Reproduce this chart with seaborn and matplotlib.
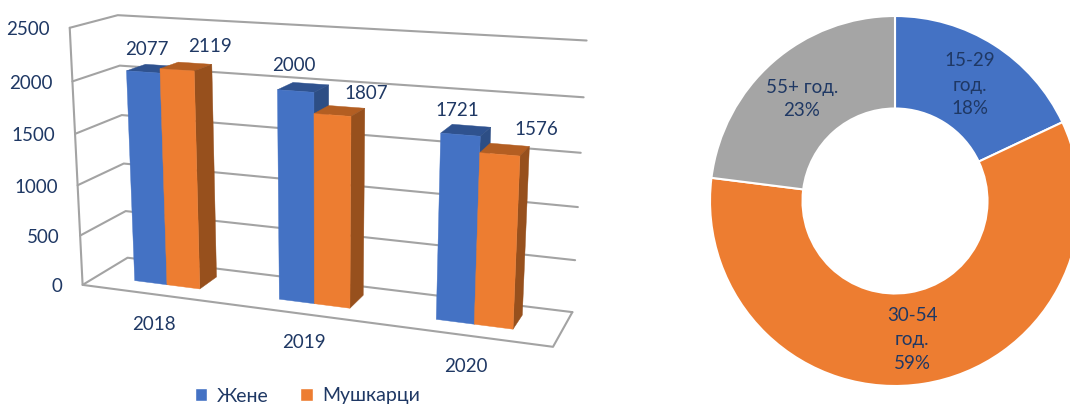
import numpy as np
import pandas as pd
import seaborn as sns
import matplotlib.pyplot as plt

years = ["2018", "2019", "2020"]
women = [2077, 2000, 1721]
men = [2119, 1807, 1576]
series_names = ["Жене", "Мушкарци"]
y_ticks = [0, 500, 1000, 1500, 2000, 2500]
age_labels = ["15-29\nгод.\n18%", "30-54\nгод.\n59%", "55+ год.\n23%"]
age_shares = [18, 59, 23]

blue, orange, grey = "#4472C4", "#ED7D31", "#A5A5A5"
shades = {0: ("#2F528F", "#2D4E85"), 1: ("#B35E22", "#97501D")}
text_color = "#1F3864"
wall_color = "#A3A3A3"
bar_width = 0.46
bar_front, bar_back = 0.32, 0.74

sns.set_theme(style="white")
plt.rcParams["font.family"] = ["Lato", "Open Sans", "DejaVu Sans"]

# camera for the fake 3d box: (category x, value, depth) -> picture pixels
calib = [
    (-0.5, 0, 0, 83, 285), (2.5, 0, 0, 553, 347), (-0.5, 0, 1, 127, 257), (2.5, 0, 1, 573, 311),
    (-0.5, 2500, 0, 70, 27), (-0.5, 2500, 1, 118, 15), (2.5, 2500, 1, 586, 40),
    (0, 0, bar_front, 167, 285), (1, 0, bar_front, 314, 303), (2, 0, bar_front, 474, 324),
    (-0.23, 2077, bar_front, 125, 71), (0.23, 2119, bar_front, 196, 71),
    (0.77, 2000, bar_front, 276, 90), (1.23, 1807, bar_front, 352, 116),
    (1.77, 1721, bar_front, 439, 133), (2.23, 1576, bar_front, 521, 156),
    (0.23, 2119, bar_back, 212, 65), (0.23, 0, bar_back, 217, 277),
    (1.23, 1807, bar_back, 365, 109), (1.23, 0, bar_back, 363, 297),
    (2.23, 1576, bar_back, 530, 147), (2.23, 0, bar_back, 522, 315),
]
rows, rhs = [], []
for x, v, d, u, w in calib:
    v = v / 1000
    rows.append([x, v, d, 1, 0, 0, 0, 0, -u * x, -u * v, -u * d])
    rhs.append(u)
    rows.append([0, 0, 0, 0, x, v, d, 1, -w * x, -w * v, -w * d])
    rhs.append(w)
cam = np.append(np.linalg.lstsq(np.array(rows, float), np.array(rhs, float), rcond=None)[0], 1).reshape(3, 4)


def project(x, v, d):
    p = cam @ np.array([x, v / 1000, d, 1])
    return p[0] / p[2], p[1] / p[2]


fig = plt.figure(figsize=(10.7, 4.04), dpi=100)

# bars go through seaborn first, their rectangles are then put through the camera
df = pd.DataFrame({
    "year": years * 2,
    "value": women + men,
    "series": [series_names[0]] * 3 + [series_names[1]] * 3,
})
ax_bar = fig.add_axes([0, 0, 1, 1])
sns.barplot(data=df, x="year", y="value", hue="series", palette=[blue, orange],
            width=bar_width, gap=0, saturation=1, ax=ax_bar)
handles, labels = ax_bar.get_legend_handles_labels()
ax_bar.get_legend().remove()
ax_bar.set_visible(False)

ax = fig.add_axes([0, 0, 1, 1])
ax.set_xlim(0, 1070)
ax.set_ylim(404, 0)
ax.set_axis_off()

for v in y_ticks:
    left = project(-0.5, v, 0)
    back_l = project(-0.5, v, 1)
    back_r = project(2.5, v, 1)
    ax.plot([left[0], back_l[0], back_r[0]], [left[1], back_l[1], back_r[1]], color=wall_color, lw=1.5, zorder=1)
    ax.text(left[0] - 20, left[1] + 2, str(v), ha="right", va="center", fontsize=13.5, color=text_color)

corners = [project(-0.5, 2500, 0), project(-0.5, 0, 0), project(2.5, 0, 0), project(2.5, 0, 1)]
ax.plot([c[0] for c in corners], [c[1] for c in corners], color=wall_color, lw=1.5, zorder=1)


def face(points, color):
    xy = np.array(points)
    ax.fill(xy[:, 0], xy[:, 1], color=color, lw=0.3, zorder=2)


label_offsets = [[(4, -22), (-2, -26), (-3, -24)], [(33, -23), (34, -21), (37, -25)]]
for s, container in enumerate(ax_bar.containers):
    for i, bar in enumerate(container):
        x0, x1 = bar.get_x(), bar.get_x() + bar.get_width()
        h = bar.get_height()
        color = bar.get_facecolor()
        top_shade, side_shade = shades[s]
        face([project(x0, h, bar_front), project(x1, h, bar_front),
              project(x1, h, bar_back), project(x0, h, bar_back)], top_shade)
        face([project(x1, 0, bar_front), project(x1, h, bar_front),
              project(x1, h, bar_back), project(x1, 0, bar_back)], side_shade)
        face([project(x0, 0, bar_front), project(x1, 0, bar_front),
              project(x1, h, bar_front), project(x0, h, bar_front)], color)
        cx, cy = project((x0 + x1) / 2, h, bar_front)
        dx, dy = label_offsets[s][i]
        ax.text(cx + dx, cy + dy, f"{int(h)}", ha="center", va="center", fontsize=13.5, color=text_color)

for year, (px, py) in zip(years, [(154, 325), (304, 343), (466, 366)]):
    ax.text(px, py, year, ha="center", va="center", fontsize=13.5, color=text_color)

fig.legend(handles, labels, loc="center", bbox_to_anchor=(307.5 / 1070, 1 - 396 / 404), ncols=2, frameon=False,
           fontsize=14, labelcolor=text_color, handlelength=0.62, handleheight=0.62, handletextpad=0.5,
           columnspacing=1.65, borderpad=0)

# donut runs a little past the right edge of the picture
ax_pie = fig.add_axes([710 / 1070, 1 - 386 / 404, 370 / 1070, 370 / 404])
ax_pie.pie(age_shares, colors=[blue, orange, grey], startangle=90, counterclock=False, radius=1,
           wedgeprops={"width": 0.5, "edgecolor": "white", "linewidth": 1.5})
ax_pie.set_xlim(-1, 1)
ax_pie.set_ylim(-1, 1)
for label, (px, py) in zip(age_labels, [(970, 85), (912, 340), (802, 99)]):
    ax_pie.text((px - 895) / 185, (201 - py) / 185, label, ha="center", va="center",
                fontsize=13.5, color=text_color, linespacing=1.5)

fig.savefig("out.png", dpi=100)
